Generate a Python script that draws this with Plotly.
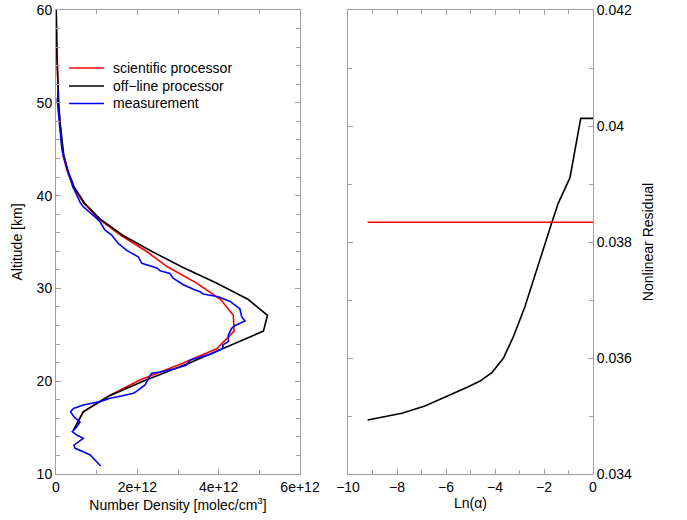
import plotly.graph_objects as go

# ---- Left panel: ozone number density profiles (units of 1e12 molec/cm^3) ----
E12 = 1e12

alt_grid = [14.74, 16.7, 18.4, 20.1, 21.9, 23.5, 25.4, 27.1, 28.8, 30.6, 32.3, 34.0,
            35.7, 37.5, 39.2, 40.9, 42.7, 44.4, 46.1, 47.9, 49.6, 51.3, 53.1, 54.8,
            56.5, 58.3, 60.0]
offline_nd = [0.43, 0.67, 1.30, 2.20, 3.25, 4.11, 5.10, 5.20, 4.73, 3.93, 3.10, 2.35,
              1.65, 1.08, 0.70, 0.45, 0.29, 0.19, 0.14, 0.10, 0.07, 0.05, 0.035, 0.025,
              0.018, 0.01, 0.005]
scientific_nd = [0.43, 0.67, 1.30, 2.05, 3.10, 3.95, 4.38, 4.36, 4.05, 3.45, 2.75, 2.22,
                 1.60, 1.05, 0.68, 0.42, 0.27, 0.17, 0.13, 0.095, 0.068, 0.05, 0.035,
                 0.025, 0.018, 0.01, 0.005]

meas_alt = [10.86, 11.5, 12.05, 12.4, 12.77, 13.1, 13.85, 14.2, 14.56, 15.1, 15.6, 16.17,
            16.7, 17.07, 17.44, 17.8, 18.16, 18.4, 18.7, 18.9, 19.6, 19.95, 20.5, 20.85,
            21.0, 21.3, 21.75, 22.3, 22.9, 23.45, 23.65, 23.9, 24.3, 25.0, 25.7, 26.0,
            26.5, 26.9, 27.8, 28.2, 28.6, 29.1, 29.4, 29.65, 29.9, 30.4, 31.1, 31.6,
            31.9, 32.2, 32.7, 33.4, 34.1, 34.85, 35.75, 36.3, 37.2, 37.7, 38.8, 39.3,
            40.9, 42.0, 43.1, 44.3, 45.2, 47.4, 49.2, 50.3, 51.2]
meas_nd = [1.10, 0.97, 0.84, 0.67, 0.47, 0.44, 0.67, 0.51, 0.40, 0.51, 0.59, 0.44,
           0.36, 0.43, 0.67, 1.08, 1.33, 1.61, 1.90, 1.98, 2.19, 2.23, 2.31, 2.35,
           2.56, 2.88, 3.21, 3.30, 3.79, 4.07, 4.11, 4.10, 4.24, 4.24, 4.32, 4.40,
           4.65, 4.57, 4.52, 4.40, 4.28, 3.99, 3.62, 3.54, 3.38, 3.13, 2.88, 2.80,
           2.56, 2.48, 2.11, 2.02, 1.74, 1.53, 1.37, 1.20, 1.08, 0.96, 0.67, 0.59,
           0.42, 0.34, 0.26, 0.18, 0.14, 0.10, 0.06, 0.03, 0.06]

nd_tickvals = [0, 2, 4, 6]
nd_ticktext = ["0", "2e+12", "4e+12", "6e+12"]

series_names = ["scientific processor", "off\u2212line processor", "measurement"]
series_colors = ["#ff0000", "#000000", "#0000ff"]

# ---- Right panel: residual vs regularisation strength ----
ln_alpha = [-9.2, -7.8, -6.86, -5.97, -5.09, -4.61, -4.13, -3.66, -3.25, -2.78, -2.44,
            -2.03, -1.69, -1.42, -0.94, -0.5, 0.0]
residual = [0.034931, 0.035047, 0.035172, 0.035333, 0.035505, 0.035603, 0.035747,
            0.035995, 0.036367, 0.036885, 0.037345, 0.037862, 0.038322, 0.038667,
            0.039109, 0.040132, 0.040132]
scientific_residual = 0.03834
res_tickvals = [0.034, 0.036, 0.038, 0.040, 0.042]
res_ticktext = ["0.034", "0.036", "0.038", "0.04", "0.042"]

FONT = "Liberation Sans, Arial, Helvetica, sans-serif"
FS = 14
FRAME = "#a0a0a0"
LW = 1.6

fig = go.Figure()

profiles = [(scientific_nd, alt_grid), (offline_nd, alt_grid), (meas_nd, meas_alt)]
for (nd, alt), name, color in zip(profiles, series_names, series_colors):
    fig.add_trace(go.Scatter(x=[v * E12 for v in nd], y=alt, mode="lines",
                             line=dict(color=color, width=LW), name=name,
                             showlegend=False, xaxis="x", yaxis="y"))

fig.add_trace(go.Scatter(x=ln_alpha, y=residual, mode="lines",
                         line=dict(color=series_colors[1], width=LW), showlegend=False,
                         xaxis="x2", yaxis="y2"))
fig.add_trace(go.Scatter(x=[ln_alpha[0], ln_alpha[-1]],
                         y=[scientific_residual, scientific_residual], mode="lines",
                         line=dict(color=series_colors[0], width=LW), showlegend=False,
                         xaxis="x2", yaxis="y2"))

# Key inside the profile panel: short line sample followed by its label
W, H = 687, 520
ML, MR, MT, MB = 56, 94, 10, 46
PW, PH = W - ML - MR, H - MT - MB


def px_x(p):
    return (p - ML) / PW


def px_y(p):
    return 1 - (p - MT) / PH


key_rows = [68, 86, 103.5]
shapes, annotations = [], []
for row, name, color in zip(key_rows, series_names, series_colors):
    shapes.append(dict(type="line", xref="paper", yref="paper",
                       x0=px_x(69), x1=px_x(104), y0=px_y(row), y1=px_y(row),
                       line=dict(color=color, width=LW)))
    annotations.append(dict(xref="paper", yref="paper", x=px_x(111), y=px_y(row),
                            xanchor="left", yanchor="middle", showarrow=False,
                            text=name, font=dict(family=FONT, size=FS, color="black")))

axis_common = dict(showgrid=False, zeroline=False, showline=True, linecolor=FRAME,
                   linewidth=1, mirror="ticks", ticks="inside", ticklen=5, tickcolor=FRAME,
                   automargin=False,
                   tickfont=dict(family=FONT, size=FS, color="black"))
minor_common = dict(ticks="inside", ticklen=4, tickcolor=FRAME)

fig.update_layout(
    width=W, height=H,
    margin=dict(l=ML, r=MR, t=MT, b=MB, autoexpand=False),
    paper_bgcolor="white", plot_bgcolor="white",
    font=dict(family=FONT, size=FS, color="black"),
    showlegend=False,
    shapes=shapes, annotations=annotations,
    xaxis=dict(domain=[0, 0.4544], range=[0, 6e12], tickvals=[v * E12 for v in nd_tickvals],
               ticktext=nd_ticktext, minor=dict(dtick=1e12, **minor_common),
               title=dict(text="Number Density [molec/cm<sup>3</sup>]", standoff=3,
                          font=dict(family=FONT, size=FS)),
               anchor="y", **axis_common),
    yaxis=dict(domain=[0, 1], range=[10, 60], dtick=10,
               minor=dict(dtick=2, **minor_common),
               title=dict(text="Altitude [km]", standoff=10, font=dict(family=FONT, size=FS)),
               anchor="x", **axis_common),
    xaxis2=dict(domain=[0.5438, 1.0], range=[-10, 0], dtick=2,
                minor=dict(dtick=1, **minor_common),
                title=dict(text="Ln(\u03b1)", standoff=3, font=dict(family=FONT, size=FS)),
                anchor="y2", **axis_common),
    yaxis2=dict(domain=[0, 1], range=[0.034, 0.042], tickvals=res_tickvals,
                ticktext=res_ticktext, side="right",
                minor=dict(dtick=0.001, **minor_common),
                title=dict(text="Nonlinear Residual", standoff=12,
                           font=dict(family=FONT, size=FS)),
                anchor="x2", **axis_common),
)

fig.write_html("out.html")
